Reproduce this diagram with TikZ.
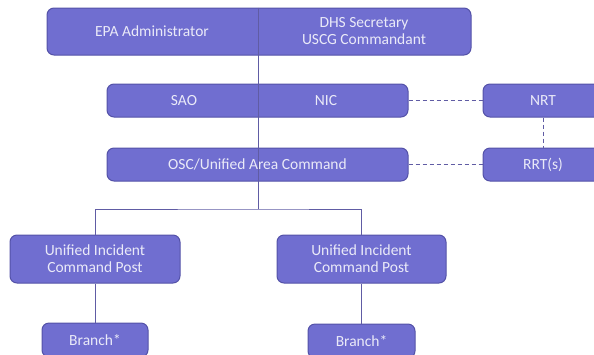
\documentclass[tikz,border=0pt]{standalone}
\usepackage{fontspec}
\setmainfont{Carlito}
\definecolor{boxfill}{RGB}{112,110,208}
\definecolor{boxline}{RGB}{84,82,168}
\definecolor{boxtext}{RGB}{234,234,248}
\definecolor{linkcol}{RGB}{96,92,164}

\tikzset{
    unit/.style={draw=boxline, fill=boxfill, rounded corners=7pt, line width=1pt, inner sep=0pt,
                 text=boxtext, align=center, font=\fontsize{15.5}{17}\selectfont},
    txt/.style={text=boxtext, align=center, font=\fontsize{15.5}{17}\selectfont},
    link/.style={draw=linkcol, line width=1pt},
    dotlink/.style={link, dash pattern=on 4pt off 3pt}
}

\begin{document}
\begin{tikzpicture}[x=1pt,y=-1pt]
    \useasboundingbox (0,0) rectangle (594,354);
    \clip (0,0) rectangle (594,354);
    % heads
    \node[unit, minimum width=424pt, minimum height=47pt] (top) at (259,31.5) {};
    \node[txt] (epa) at (152,31.5) {EPA Administrator};
    \node[txt] (dhs) at (364,31.5) {DHS Secretary\\USCG Commandant};
    % national level
    \node[unit, minimum width=301pt, minimum height=33pt] (nic) at (257.5,100.5) {};
    \node[txt] (sao) at (184,100.5) {SAO};
    \node[txt] (nicl) at (326,100.5) {NIC};
    \node[unit, minimum width=120pt, minimum height=33pt] (nrt) at (543,100.5) {NRT};
    % area level
    \node[unit, minimum width=301pt, minimum height=33pt] (osc) at (257.5,164.5) {OSC/Unified Area Command};
    \node[unit, minimum width=120pt, minimum height=33pt] (rrt) at (543,164.5) {RRT(s)};
    % incident level
    \node[unit, minimum width=170pt, minimum height=48pt] (postl) at (95,259) {Unified Incident\\Command Post};
    \node[unit, minimum width=169pt, minimum height=48pt] (postr) at (361.5,259) {Unified Incident\\Command Post};
    \node[unit, minimum width=106pt, minimum height=34pt] (branchl) at (95,340) {Branch*};
    \node[unit, minimum width=107pt, minimum height=34pt] (branchr) at (361.5,341) {Branch*};

    \coordinate (fork) at (258,209);
    \draw[link] (top.north -| fork) -- (fork);
    \draw[link] (postl.north) |- (fork) -| (postr.north);
    \draw[link] (postl) -- (branchl);
    \draw[link] (postr) -- (branchr);
    \draw[dotlink] (nic) -- (nrt);
    \draw[dotlink] (osc) -- (rrt);
    \draw[dotlink] (nrt) -- (rrt);
\end{tikzpicture}
\end{document}
